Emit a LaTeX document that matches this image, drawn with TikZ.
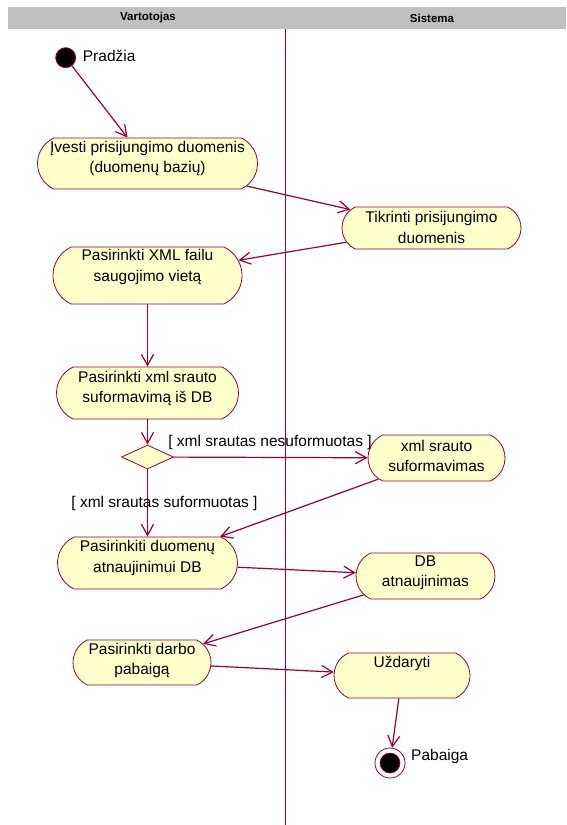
\documentclass[tikz,border=0pt]{standalone}
\usepackage{fontspec}
\setmainfont{Liberation Sans}
\usetikzlibrary{shapes.misc,shapes.geometric,arrows.meta}
\definecolor{umlline}{HTML}{990033}
\definecolor{umlfill}{HTML}{FFFFCC}
\definecolor{lanehead}{HTML}{C0C0C0}
\tikzset{
  act/.style={rounded rectangle, rounded rectangle arc length=130,
    draw=umlline, fill=umlfill, line width=0.8pt, inner sep=0pt},
  acttext/.style={align=center, inner sep=0pt,
    font=\fontsize{15.5}{20.5}\selectfont},
  lbl/.style={inner sep=0pt, font=\fontsize{15.5}{20.5}\selectfont},
  lanetitle/.style={inner sep=0pt, font=\fontsize{11.5}{13}\selectfont\bfseries},
  decision/.style={diamond, draw=umlline, fill=umlfill, line width=0.8pt,
    inner sep=0pt, minimum width=52pt, minimum height=24pt},
  flow/.style={draw=umlline, line width=1.2pt,
    -{Straight Barb[length=11pt,width=12pt,line width=1.2pt]}},
}
\begin{document}
\begin{tikzpicture}[x=1pt,y=-1pt]
\useasboundingbox (0,0) rectangle (566,825);

% swimlane headers and divider
\fill[lanehead] (8,7) rectangle (566,29);
\node[lanetitle] (laneuser) at (148,18) {Vartotojas};
\node[lanetitle] (lanesys) at (432,18) {Sistema};
\draw[umlline, line width=0.6pt] (285.7,29) -- (285.7,825);

% initial state
\node[circle, fill=black, draw=umlline, line width=0.8pt, minimum size=20pt, inner sep=0pt] (start) at (65.7,57.7) {};
\node[lbl, anchor=west] (startlbl) at (82.7,56) {Pradžia};

% activities
\node[act, minimum width=220pt, minimum height=51pt] (a1) at (147.5,163.5) {};
\node[acttext] (a1t) at (147.5,158.5) {Įvesti prisijungimo duomenis\\(duomenų bazių)};

\node[act, minimum width=179pt, minimum height=42pt] (s1) at (431.5,228) {};
\node[acttext] (s1t) at (431.5,227.5) {Tikrinti prisijungimo\\duomenis};

\node[act, minimum width=189pt, minimum height=57pt] (a2) at (147.5,275.5) {};
\node[acttext] (a2t) at (147.5,267) {Pasirinkti XML failu\\saugojimo vietą};

\node[act, minimum width=182pt, minimum height=52pt] (a3) at (147.5,393) {};
\node[acttext] (a3t) at (147.5,388.5) {Pasirinkti xml srauto\\suformavimą iš DB};

\node[decision] (dec) at (147.5,457) {};

\node[act, minimum width=137pt, minimum height=46pt] (s2) at (436.5,458) {};
\node[acttext] (s2t) at (436.5,456) {xml srauto\\suformavimas};

\node[act, minimum width=180pt, minimum height=52pt] (a4) at (147.5,563) {};
\node[acttext] (a4t) at (147.5,558) {Pasirinkiti duomenų\\atnaujinimui DB};

\node[act, minimum width=139pt, minimum height=46pt] (s3) at (425.5,576) {};
\node[acttext] (s3t) at (425.5,573) {DB\\atnaujinimas};

\node[act, minimum width=138pt, minimum height=45pt] (a5) at (142,662.5) {};
\node[acttext] (a5t) at (142,660.5) {Pasirinkti darbo\\pabaigą};

\node[act, minimum width=136pt, minimum height=45pt] (s4) at (402,675.5) {};
\node[acttext] (s4t) at (402,663) {Uždaryti};

% final state
\node[circle, draw=umlline, fill=white, line width=0.8pt, minimum size=30pt, inner sep=0pt] (end) at (390,763) {};
\node[circle, fill=black, draw=umlline, line width=0.6pt, minimum size=20pt, inner sep=0pt] (endcore) at (end.center) {};
\node[lbl, anchor=west] (endlbl) at (411,756) {Pabaiga};

% transitions
\draw[flow] (start) -- (a1);
\draw[flow] (a1) -- (s1);
\draw[flow] (s1) -- (a2);
\draw[flow] (a2) -- (a3);
\draw[flow] (a3) -- (dec);
\draw[flow] (dec) -- (s2);
\draw[flow] (dec) -- (a4);
\draw[flow] (s2) -- (a4);
\draw[flow] (a4) -- (s3);
\draw[flow] (s3) -- (a5);
\draw[flow] (a5) -- (s4);
\draw[flow] (s4) -- (end);

% guard labels
\node[lbl] (guardno) at (270,442) {[ xml srautas nesuformuotas ]};
\node[lbl] (guardyes) at (164.5,503) {[ xml srautas suformuotas ]};
\end{tikzpicture}
\end{document}
